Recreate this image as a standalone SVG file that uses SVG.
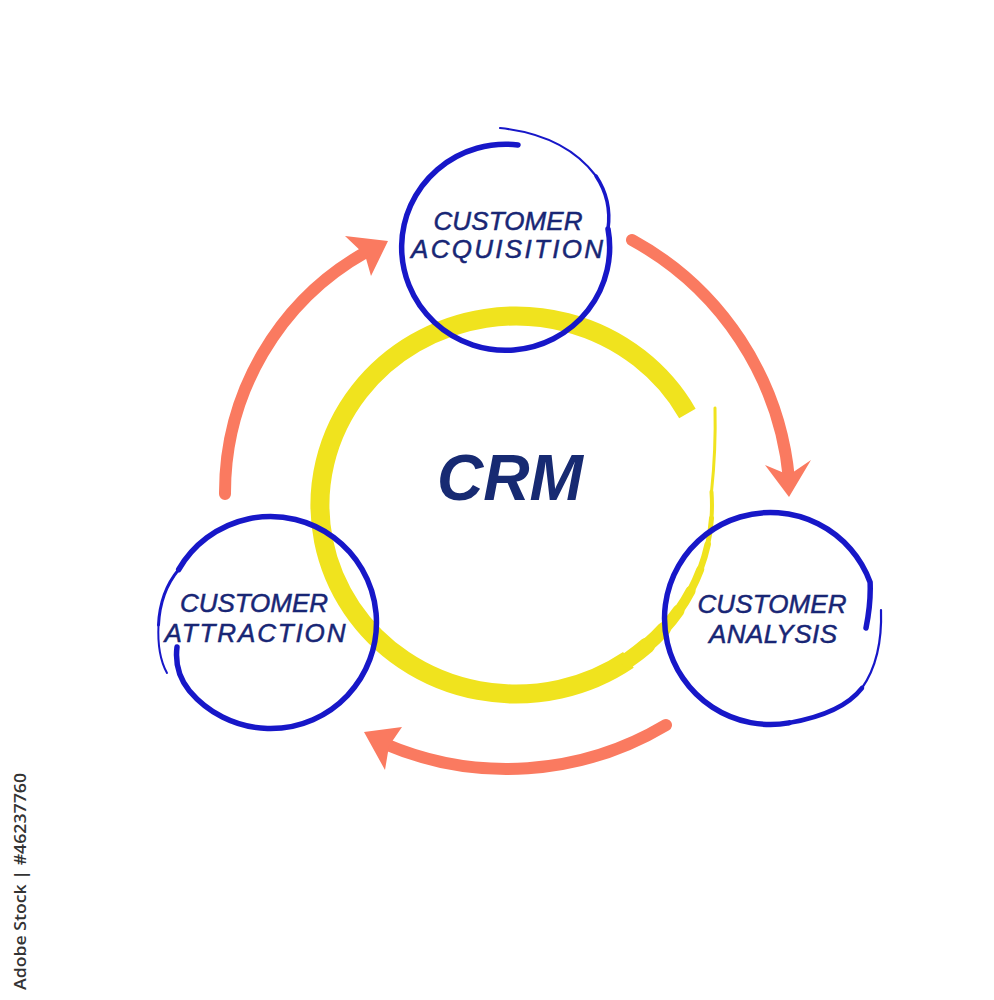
<svg xmlns="http://www.w3.org/2000/svg" width="994" height="1000" viewBox="0 0 994 1000">
<style>
.ring{fill:none;stroke:#1717c8;stroke-linecap:round}
.yel{fill:none;stroke:#f0e31e;stroke-linecap:round}
.lbl{font-family:"Liberation Sans",Arial,sans-serif;font-style:italic;font-size:26px;fill:#182675;stroke:#182675;stroke-width:0.5;text-anchor:middle}
.shaft{fill:none;stroke:#fa7a60;stroke-width:12}
.head{fill:#fa7a60}
</style>
<rect width="994" height="1000" fill="#ffffff"/>

<g id="crm">
  <path class="yel" style="stroke-linecap:butt" stroke-width="19" d="M 687.4 413.4 A 196 189 0 1 0 628.4 659.8"/>
  <path class="yel" stroke-width="16" d="M 628.4 659.8 A 196 189 0 0 0 647.1 645.4"/>
  <path class="yel" stroke-width="14" d="M 647.1 645.4 A 196 189 0 0 0 663.9 629"/>
  <path class="yel" stroke-width="12" d="M 663.9 629 A 196 189 0 0 0 678.5 610.7"/>
  <path class="yel" stroke-width="10" d="M 678.5 610.7 A 196 189 0 0 0 690.6 590.8"/>
  <path class="yel" stroke-width="8" d="M 690.6 590.8 A 196 189 0 0 0 700.2 569.6"/>
  <path class="yel" stroke-width="6.5" d="M 700.2 569.6 A 196 189 0 0 0 707.7 544.3"/>
  <path class="yel" stroke-width="5" d="M 707.7 544.3 A 196 189 0 0 0 711.5 518.2"/>
  <path class="yel" stroke-width="4" d="M 711.5 518.2 A 196 189 0 0 0 711.5 491.8"/>
  <path class="yel" stroke-width="3" d="M 711.5 491.8 Q 716 450 715 408"/>
  <text x="510" y="500" font-family="'Liberation Sans',Arial,sans-serif" font-style="italic" font-weight="bold" font-size="64" fill="#172a72" text-anchor="middle" textLength="146" lengthAdjust="spacingAndGlyphs">CRM</text>
</g>

<g id="acquisition">
  <path class="ring" stroke-width="5.5" d="M 518 145 A 104 103 0 1 0 608 229"/>
  <path class="ring" stroke-width="3.5" d="M 608 229 Q 612 200 596 176"/>
  <path class="ring" stroke-width="2.2" d="M 596 176 Q 565 135 500 128"/>
  <text class="lbl" x="508" y="230" textLength="149">CUSTOMER</text>
  <text class="lbl" x="507" y="258" textLength="192">ACQUISITION</text>
</g>

<g id="attraction">
  <path class="ring" stroke-width="5.5" d="M 177 647 Q 174 672 189.3 690.7 A 106 106 0 1 0 178.7 569.5"/>
  <path class="ring" stroke-width="3" d="M 178.7 569.5 Q 160 592 158.5 625"/>
  <path class="ring" stroke-width="2" d="M 158.5 625 Q 157 655 167 673"/>
  <text class="lbl" x="254" y="612" textLength="148">CUSTOMER</text>
  <text class="lbl" x="255" y="642" textLength="181">ATTRACTION</text>
</g>

<g id="analysis">
  <path class="ring" stroke-width="5.5" d="M 866 628 Q 871 603 870.1 582.2 A 106 106 0 1 0 789 722.9"/>
  <path class="ring" stroke-width="4.5" d="M 789 722.9 C 814 718.5 845 710 862 688"/>
  <path class="ring" stroke-width="2.2" d="M 862 688 C 876 668 882 640 881 610"/>
  <text class="lbl" x="772" y="613" textLength="149">CUSTOMER</text>
  <text class="lbl" x="773" y="643" textLength="128">ANALYSIS</text>
</g>

<g id="connectors">
  <path class="shaft" stroke-linecap="round" d="M 225 494 A 276 276 0 0 1 366 252"/>
  <polygon class="head" points="388,241 345,236 365,255 371,276"/>
  <path class="shaft" stroke-linecap="round" d="M 632 240 A 304 304 0 0 1 789 479"/>
  <polygon class="head" points="789,497 765,465 789,475 811,460"/>
  <path class="shaft" stroke-linecap="round" d="M 666 725 A 310 310 0 0 1 385 744"/>
  <polygon class="head" points="364,732 402,727 389,746 385,770"/>
</g>

<text transform="translate(26,990) rotate(-90)" font-family="'Open Sans','DejaVu Sans',sans-serif" font-size="16" font-weight="600" fill="#333333" textLength="217" lengthAdjust="spacingAndGlyphs">Adobe Stock | #46237760</text>
</svg>
